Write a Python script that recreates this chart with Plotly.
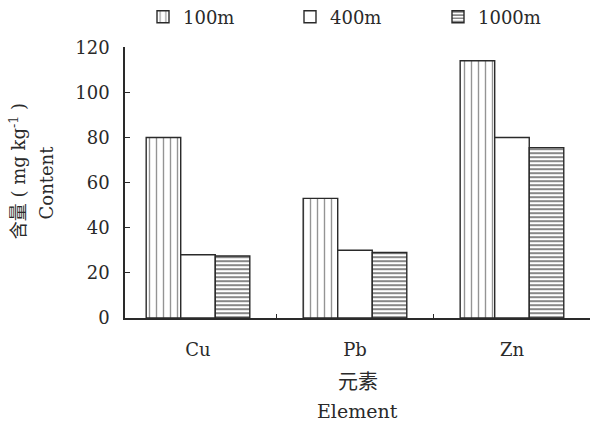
import plotly.graph_objects as go

elements = ["Cu", "Pb", "Zn"]
series_names = ["100m", "400m", "1000m"]
v100 = [80, 53, 114]
v400 = [28, 30, 80]
v1000 = [27.5, 29, 75.5]
y_ticks = [0, 20, 40, 60, 80, 100, 120]

FONT = "DejaVu Serif, Liberation Serif, Noto Sans CJK SC, serif"
INK = "#2a2a2a"

fig = go.Figure()
patterns = [
    dict(shape="|", size=7, solidity=0.2, fgcolor=INK, bgcolor="white"),
    dict(shape="", fgcolor=INK, bgcolor="white"),
    dict(shape="-", size=4, solidity=0.5, fgcolor="#111", bgcolor="white"),
]
values = [v100, v400, v1000]
legends = ["legend", "legend2", "legend3"]
for name, vals, pat, lg in zip(series_names, values, patterns, legends):
    fig.add_trace(go.Bar(
        x=elements, y=vals, name=name, legend=lg, showlegend=True,
        marker=dict(color="white", pattern=pat, line=dict(color=INK, width=1.4)),
    ))

leg_common = dict(orientation="h", xref="container", yref="container",
                  yanchor="middle", xanchor="left", bgcolor="rgba(0,0,0,0)",
                  font=dict(family=FONT, size=18, color=INK), borderwidth=0,
                  visible=True)
fig.update_layout(
    showlegend=True,
    legend=dict(x=143/591, y=1-17/423, **leg_common),
    legend2=dict(x=290/591, y=1-17/423, **leg_common),
    legend3=dict(x=438/591, y=1-17/423, **leg_common),
)

fig.update_layout(
    width=591, height=423,
    margin=dict(l=125, r=1, t=45, b=105),
    plot_bgcolor="white", paper_bgcolor="white",
    barmode="group", bargap=0.34, bargroupgap=0,
    font=dict(family=FONT, size=18, color=INK),
    xaxis=dict(
        range=[-0.465, 2.497], showline=True, linecolor=INK, linewidth=2,
        ticks="inside", ticklen=4, tickcolor=INK, tickson="boundaries",
        showgrid=False, ticklabelstandoff=14,
        tickfont=dict(family=FONT, size=18, color=INK),
    ),
    yaxis=dict(
        range=[0, 120], tickvals=y_ticks, showline=True, linecolor=INK, linewidth=1.5,
        ticks="inside", ticklen=5, tickcolor=INK, showgrid=False, zeroline=False,
        ticklabelstandoff=10,
        tickfont=dict(family=FONT, size=18, color=INK),
    ),
    annotations=[
        dict(text="含量 ( mg kg<sup>-1</sup> )", xref="paper", yref="paper",
             x=-0.230, y=0.542, xanchor="center", yanchor="middle",
             textangle=-90, showarrow=False,
             font=dict(family=FONT, size=18, color=INK)),
        dict(text="Content", xref="paper", yref="paper",
             x=-0.168, y=0.50, xanchor="center", yanchor="middle",
             textangle=-90, showarrow=False,
             font=dict(family=FONT, size=18, color=INK)),
        dict(text="元素", xref="paper", yref="paper",
             x=0.5, y=-(383-318)/273, xanchor="center", yanchor="middle",
             showarrow=False, font=dict(family=FONT, size=20, color=INK)),
        dict(text="Element", xref="paper", yref="paper",
             x=0.5, y=-(412-318)/273, xanchor="center", yanchor="middle",
             showarrow=False, font=dict(family=FONT, size=19, color=INK)),
    ],
)

fig.write_html("out.html")
